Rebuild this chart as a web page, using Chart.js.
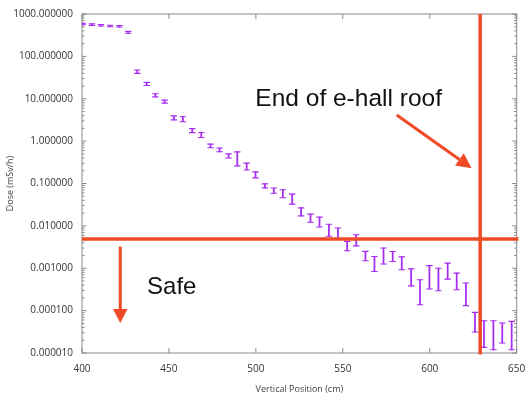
<!DOCTYPE html>
<html>
<head>
<meta charset="utf-8">
<script src="https://cdn.jsdelivr.net/npm/chart.js@4.4.1/dist/chart.umd.min.js"></script>
<style>
  html, body { margin: 0; padding: 0; background: #fff; }
  #wrap { width: 528px; height: 395px; }
</style>
</head>
<body>
<div id="wrap"><canvas id="doseChart"></canvas></div>
<script>
// vertical position of each measurement (cm)
const positions = [400.5, 405.7, 410.9, 416.2, 421.5, 426.6, 431.8, 437.2, 442.2, 447.5,
  452.8, 458.0, 463.4, 468.6, 473.9, 479.1, 484.3, 489.3, 494.7, 499.8,
  505.2, 510.3, 515.5, 520.9, 526.0, 531.4, 536.6, 542.0, 547.2, 552.5,
  557.7, 563.0, 568.2, 573.4, 578.7, 583.9, 589.3, 594.4, 599.8, 605.0,
  610.3, 615.5, 620.8, 626.0, 631.2, 636.6, 641.7, 647.1];

// dose (mSv/h) and its error band
const dose = [581, 560, 541, 521, 513, 370, 43.6, 22.4, 12.1, 8.55,
  3.53, 3.29, 1.77, 1.40, 0.772, 0.621, 0.449, 0.381, 0.251, 0.160,
  0.088, 0.068, 0.057, 0.0428, 0.0214, 0.0152, 0.0123, 0.0079, 0.0065, 0.00333,
  0.00456, 0.00194, 0.00126, 0.00195, 0.00189, 0.00131, 0.000608, 0.000271, 0.000612, 0.000543,
  0.000857, 0.000488, 0.000242, 0.0000535, 0.000028, 0.0000262, 0.0000296, 0.0000258];
const doseLow = [556, 537, 519, 500, 492, 352, 39.7, 20.6, 11.1, 7.9,
  3.17, 2.87, 1.59, 1.22, 0.70, 0.56, 0.40, 0.26, 0.208, 0.136,
  0.079, 0.059, 0.046, 0.0326, 0.0172, 0.0122, 0.0094, 0.0057, 0.0048, 0.00258,
  0.00338, 0.0015, 0.00084, 0.00126, 0.00144, 0.00092, 0.000383, 0.000138, 0.000324, 0.000294,
  0.000555, 0.000311, 0.000131, 0.0000314, 0.0000136, 0.0000119, 0.0000172, 0.0000119];
const doseHigh = [607, 584, 564, 543, 535, 390, 47.8, 24.3, 13.1, 9.3,
  3.94, 3.77, 1.97, 1.60, 0.85, 0.69, 0.50, 0.557, 0.303, 0.188,
  0.098, 0.078, 0.071, 0.056, 0.0266, 0.0189, 0.0161, 0.0109, 0.0089, 0.0043,
  0.00615, 0.0025, 0.0019, 0.00301, 0.00248, 0.00186, 0.000964, 0.000534, 0.001155, 0.001003,
  0.001324, 0.000766, 0.000447, 0.000091, 0.0000576, 0.0000576, 0.000051, 0.0000558];

const xTicks = [400, 450, 500, 550, 600, 650];
const yTicks = [0.00001, 0.0001, 0.001, 0.01, 0.1, 1, 10, 100, 1000];

const safeLimit = 0.0049; // mSv/h
const roofEnd = 629;      // cm

const purple = 'rgb(165, 45, 240)';
const red = '#ee4b26';

function drawArrow(ctx, x1, y1, x2, y2, len, half) {
  const a = Math.atan2(y2 - y1, x2 - x1);
  const bx = x2 - len * Math.cos(a), by = y2 - len * Math.sin(a);
  ctx.beginPath();
  ctx.moveTo(x1, y1);
  ctx.lineTo(bx, by);
  ctx.stroke();
  ctx.beginPath();
  ctx.moveTo(x2, y2);
  ctx.lineTo(bx + half * Math.sin(a), by - half * Math.cos(a));
  ctx.lineTo(bx - half * Math.sin(a), by + half * Math.cos(a));
  ctx.closePath();
  ctx.fill();
}

// gnuplot style box with inward ticks
const frameTicks = {
  id: 'frameTicks',
  beforeDatasetsDraw(chart) {
    const { ctx, chartArea: a, scales: { x, y } } = chart;
    ctx.save();
    ctx.strokeStyle = '#8a8a8a';
    ctx.lineWidth = 1;
    ctx.strokeRect(a.left, a.top, a.right - a.left, a.bottom - a.top);
    ctx.beginPath();
    xTicks.forEach(v => {
      const px = x.getPixelForValue(v);
      ctx.moveTo(px, a.bottom); ctx.lineTo(px, a.bottom - 5);
      ctx.moveTo(px, a.top); ctx.lineTo(px, a.top + 5);
    });
    yTicks.forEach(v => {
      const py = y.getPixelForValue(v);
      ctx.moveTo(a.left, py); ctx.lineTo(a.left + 4.5, py);
      ctx.moveTo(a.right, py); ctx.lineTo(a.right - 4.5, py);
      if (v < 1000) {
        for (let m = 2; m <= 9; m++) {
          const pm = y.getPixelForValue(v * m);
          ctx.moveTo(a.left, pm); ctx.lineTo(a.left + 2.5, pm);
          ctx.moveTo(a.right, pm); ctx.lineTo(a.right - 2.5, pm);
        }
      }
    });
    ctx.stroke();
    ctx.restore();
  }
};

// text labels and arrows
const notes = {
  id: 'notes',
  afterDatasetsDraw(chart) {
    const { ctx, scales: { x, y } } = chart;
    ctx.save();
    ctx.strokeStyle = red;
    ctx.fillStyle = red;
    ctx.lineWidth = 3;
    drawArrow(ctx, x.getPixelForValue(581), y.getPixelForValue(4.15),
      x.getPixelForValue(624.1), y.getPixelForValue(0.23), 15, 7.5);
    drawArrow(ctx, x.getPixelForValue(422), y.getPixelForValue(0.00326),
      x.getPixelForValue(422), y.getPixelForValue(0.0000509), 14, 7.3);
    ctx.fillStyle = '#111';
    ctx.font = '24.5px "Liberation Sans", Arial, sans-serif';
    ctx.textBaseline = 'alphabetic';
    ctx.fillText('End of e-hall roof', x.getPixelForValue(499.7), y.getPixelForValue(6.8));
    ctx.font = '24px "Liberation Sans", Arial, sans-serif';
    ctx.fillText('Safe', x.getPixelForValue(437.4), y.getPixelForValue(0.00025));
    ctx.restore();
  }
};

const ctx = document.getElementById('doseChart');

new Chart(ctx, {
  type: 'scatter',
  data: {
    datasets: [
      {
        type: 'line',
        label: 'Safe limit',
        data: [{ x: 400, y: safeLimit }, { x: 651, y: safeLimit }],
        borderColor: red,
        borderWidth: 3.5,
        pointRadius: 0,
        clip: false,
        order: 0
      },
      {
        type: 'line',
        label: 'End of roof',
        data: [{ x: roofEnd, y: 1000 }, { x: roofEnd, y: 0.0000092 }],
        borderColor: red,
        borderWidth: 3.5,
        pointRadius: 0,
        clip: false,
        order: 0
      },
      {
        type: 'bar',
        label: 'Error',
        data: positions.map((p, i) => ({ x: p, y: [doseLow[i], doseHigh[i]] })),
        backgroundColor: purple,
        barThickness: 1.1,
        order: 1
      },
      {
        label: 'Low cap',
        data: positions.map((p, i) => ({ x: p, y: doseLow[i] })),
        pointStyle: 'line',
        pointRadius: 3.2,
        borderColor: purple,
        borderWidth: 1.1,
        order: 1
      },
      {
        label: 'High cap',
        data: positions.map((p, i) => ({ x: p, y: doseHigh[i] })),
        pointStyle: 'line',
        pointRadius: 3.2,
        borderColor: purple,
        borderWidth: 1.1,
        order: 1
      },
      {
        label: 'Dose',
        data: positions.map((p, i) => ({ x: p, y: dose[i] })),
        pointRadius: 0.6,
        borderWidth: 0,
        backgroundColor: purple,
        order: 1
      }
    ]
  },
  options: {
    responsive: true,
    maintainAspectRatio: false,
    animation: false,
    layout: { padding: { top: 14, right: 11.3, left: 0, bottom: 0 } },
    plugins: {
      legend: { display: false },
      tooltip: { enabled: false }
    },
    scales: {
      x: {
        type: 'linear',
        min: 400,
        max: 650,
        offset: false,
        afterBuildTicks: s => { s.ticks = xTicks.map(v => ({ value: v })); },
        afterFit: s => { s.height = 42; s.paddingLeft = 0; s.paddingRight = 0; },
        grid: { display: false, drawTicks: false },
        border: { display: false },
        ticks: {
          padding: 10.5,
          color: '#333',
          font: { family: 'Open Sans', size: 10 },
          maxRotation: 0
        },
        title: {
          display: true,
          text: 'Vertical Position (cm)',
          color: '#444',
          font: { family: 'Open Sans', size: 9 },
          padding: { top: 0, bottom: 0 }
        }
      },
      y: {
        type: 'logarithmic',
        min: 0.00001,
        max: 1000,
        afterBuildTicks: s => { s.ticks = yTicks.map(v => ({ value: v })); },
        afterFit: s => { s.width = 82; s.paddingTop = 0; s.paddingBottom = 0; },
        grid: { display: false, drawTicks: false },
        border: { display: false },
        ticks: {
          padding: 9,
          color: '#333',
          font: { family: 'Open Sans', size: 10 },
          callback: v => Number(v).toFixed(6)
        },
        title: {
          display: true,
          text: 'Dose (mSv/h)',
          color: '#444',
          font: { family: 'Open Sans', size: 9 },
          padding: { top: 5.5, bottom: 0 }
        }
      }
    }
  },
  plugins: [frameTicks, notes]
});
</script>
</body>
</html>
